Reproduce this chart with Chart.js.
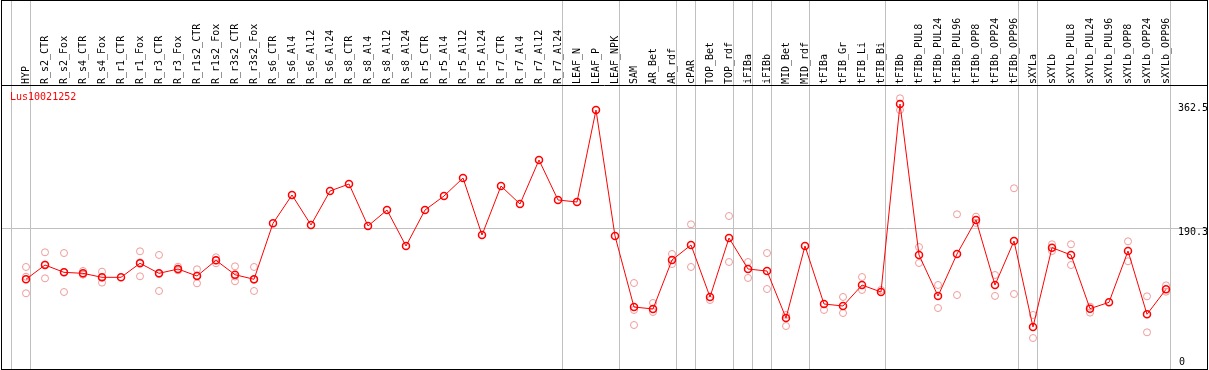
<!DOCTYPE html>
<html><head><meta charset="utf-8">
<script src="https://cdn.jsdelivr.net/npm/chart.js@4.4.0/dist/chart.umd.min.js"></script>
<style>html,body{margin:0;padding:0;background:#fff;overflow:hidden}</style>
</head><body>
<canvas id="c" width="1209" height="370"></canvas>
<script>
const GENE = 'Lus10021252';
const CATEGORIES = ['HYP','R_s2_CTR','R_s2_Fox','R_s4_CTR','R_s4_Fox','R_r1_CTR','R_r1_Fox','R_r3_CTR','R_r3_Fox','R_r1s2_CTR','R_r1s2_Fox','R_r3s2_CTR','R_r3s2_Fox','R_s6_CTR','R_s6_Al4','R_s6_Al12','R_s6_Al24','R_s8_CTR','R_s8_Al4','R_s8_Al12','R_s8_Al24','R_r5_CTR','R_r5_Al4','R_r5_Al12','R_r5_Al24','R_r7_CTR','R_r7_Al4','R_r7_Al12','R_r7_Al24','LEAF_N','LEAF_P','LEAF_NPK','SAM','AR_Bet','AR_rdf','cPAR','TOP_Bet','TOP_rdf','iFIBa','iFIBb','MID_Bet','MID_rdf','tFIBa','tFIB_Gr','tFIB_Li','tFIB_Bi','tFIBb','tFIBb_PUL8','tFIBb_PUL24','tFIBb_PUL96','tFIBb_OPP8','tFIBb_OPP24','tFIBb_OPP96','sXYLa','sXYLb','sXYLb_PUL8','sXYLb_PUL24','sXYLb_PUL96','sXYLb_OPP8','sXYLb_OPP24','sXYLb_OPP96'];
const MEANS = [120,139.7,129.6,128.2,122.7,122.7,142.1,128.2,134.2,124.5,146.2,126.3,120,
  197.4,236.6,195.1,242.1,251.8,193.7,215.8,166,215.8,235.2,260.1,181.2,249,224.1,285,229.7,
  226.9,354.2,179.9,81.6,78.9,146.7,167.4,95.5,177.1,134.2,131.4,66.4,166,85.8,83,112,102.4,
  362.5,153.6,96.8,155,202,112,172.9,54,163.7,153.6,79.3,88.1,159.1,71.5,106.1];
const REPLICATES = [
  [137,123.5,100.6],[157.3,121.3,140.5],[156.3,102.4,130.1],[131.5,126.5,126.6],[130.5,115.3,122.3],[],
  [158.7,124.1,143.5],[153.6,103.8,127.2],[137.4,132.8,132.4],[133.8,114.4,125.3],[150.4,142.1,146.1],
  [137.9,117.2,123.8],[137,103.8,119.2],
  [],[],[],[],[],[],[],[],[],[],[],[],[],[],[],[],[],[],[],
  [114.8,77.5,56.7],[87.2,74.7],[155,141.1],[196,137],[91.3],[207.5,143.9],[143.9,121.8],[156.3,106.5],
  [55.3,70.6],[],[77.5],[95.5,73.3],[123.1,105.2],[105.2],[370.4,354.2],[164.6,142.5],[112.1,80.2],
  [209.9,98.2],[206.6,197.9],[125.9,96.9],[245.9,99.6],[70.6,38.7],[168.4,159.1],[168.4,139.7],
  [82.1,73.8],[],[172.5,144.9],[96.4,46.6],[111.6,102.8]
];
const Y_TICKS = [362.5, 190.3];
const Y_ZERO_TICK = [0];
const GROUP_ENDS = [-1, 0, 28, 31, 34, 35, 37, 38, 39, 41, 45, 52, 53, 60];

const FONT = {family: 'DejaVu Sans Mono', size: 10};
const X_MIN = -25/19, X_MAX = -25/19 + 1206/19;
const PX_PER_UNIT = 262/362.5;
const Y_MIN = -3/PX_PER_UNIT, Y_MAX = Y_MIN + 283/PX_PER_UNIT;

function noPad(s) { s.paddingLeft = 0; s.paddingRight = 0; s.paddingTop = 0; s.paddingBottom = 0; }

const framePlugin = {
  id: 'frame',
  beforeDatasetsDraw(chart) {
    const ctx = chart.ctx, xs = chart.scales.x, a = chart.chartArea;
    ctx.save();
    ctx.strokeStyle = '#c0c0c0'; ctx.lineWidth = 1;
    GROUP_ENDS.forEach(i => {
      const px = Math.floor(xs.getPixelForValue(i) + 4) + 0.5;
      ctx.beginPath(); ctx.moveTo(px, 0); ctx.lineTo(px, a.bottom); ctx.stroke();
    });
    ctx.restore();
  },
  afterDraw(chart) {
    const ctx = chart.ctx, a = chart.chartArea;
    ctx.save();
    ctx.strokeStyle = '#000'; ctx.lineWidth = 1;
    ctx.strokeRect(a.left + 0.5, 0.5, a.right - a.left, a.bottom);
    ctx.beginPath(); ctx.moveTo(a.left, a.top - 0.5); ctx.lineTo(a.right + 1, a.top - 0.5); ctx.stroke();
    ctx.fillStyle = '#ff0000';
    ctx.font = '10px "DejaVu Sans Mono"';
    ctx.textBaseline = 'alphabetic'; ctx.textAlign = 'left';
    ctx.fillText(GENE, a.left + 9, a.top + 14);
    ctx.restore();
  }
};

new Chart(document.getElementById('c'), {
  data: {
    datasets: [
      {type: 'line', label: GENE, data: MEANS.map((v, i) => ({x: i, y: v})),
       borderColor: '#ff0000', borderWidth: 1, tension: 0,
       pointRadius: 3.5, pointBorderWidth: 1.5, pointBorderColor: '#ff0000',
       pointBackgroundColor: 'rgba(0,0,0,0)', order: 1, yAxisID: 'y'},
      {type: 'scatter', label: 'replicates', data: REPLICATES.flatMap((arr, i) => arr.map(v => ({x: i, y: v}))),
       pointRadius: 3.5, borderWidth: 1, borderColor: '#f09a9a', backgroundColor: 'rgba(0,0,0,0)', order: 2, yAxisID: 'y'}
    ]
  },
  options: {
    responsive: false, animation: false, devicePixelRatio: 1,
    layout: {autoPadding: false, padding: {left: 1, right: 2, top: 0, bottom: 1}},
    plugins: {legend: {display: false}, tooltip: {enabled: false}, title: {display: false}},
    scales: {
      x: {
        type: 'linear', position: 'top', min: X_MIN, max: X_MAX,
        afterBuildTicks: s => { s.ticks = CATEGORIES.map((_, i) => ({value: i})); },
        afterFit: s => { s.height = 86; noPad(s); },
        grid: {display: false, drawTicks: false},
        border: {display: false},
        ticks: {autoSkip: false, minRotation: 90, maxRotation: 90, padding: 2, labelOffset: 12, font: FONT, color: '#000',
                callback: v => CATEGORIES[v] ?? ''}
      },
      y: {
        type: 'linear', position: 'right', min: Y_MIN, max: Y_MAX,
        afterBuildTicks: s => { s.ticks = Y_TICKS.map(v => ({value: v})); },
        afterFit: s => { s.width = 0; noPad(s); },
        grid: {drawTicks: false, lineWidth: 1, color: c => (c.tick && c.tick.value === 190.3) ? '#c0c0c0' : 'rgba(0,0,0,0)'},
        border: {display: false},
        ticks: {mirror: true, crossAlign: 'far', padding: 1, labelOffset: 4, font: FONT, color: '#000',
                callback: v => String(v)}
      },
      y0: {
        type: 'linear', position: 'right', min: Y_MIN, max: Y_MAX,
        afterBuildTicks: s => { s.ticks = Y_ZERO_TICK.map(v => ({value: v})); },
        afterFit: s => { s.width = 0; noPad(s); },
        grid: {display: false, drawTicks: false},
        border: {display: false},
        ticks: {mirror: true, crossAlign: 'far', padding: -22, labelOffset: -4, font: FONT, color: '#000',
                callback: v => String(v)}
      }
    }
  },
  plugins: [framePlugin]
});
</script>
</body></html>
